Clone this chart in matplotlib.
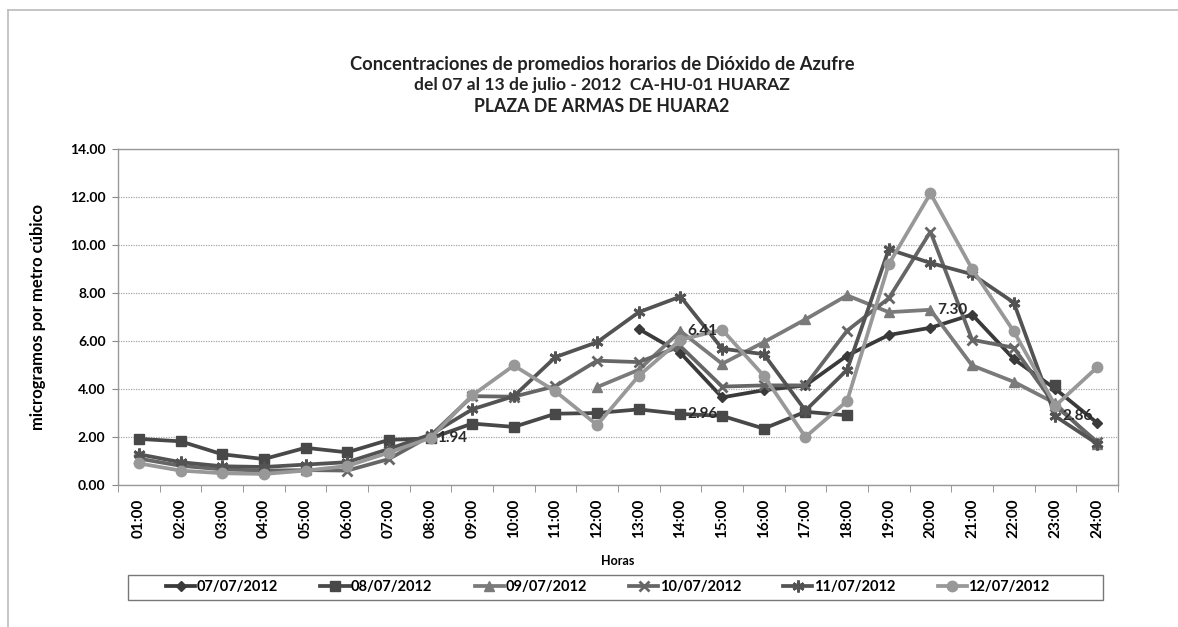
"""SO2 hourly averages, Huaraz, 07-13 July 2012"""
import numpy as np
import matplotlib.pyplot as plt
from matplotlib.lines import Line2D
from matplotlib.patches import Rectangle
from matplotlib.ticker import FixedLocator, FormatStrFormatter

plt.rcParams['font.family'] = ['Lato', 'DejaVu Sans']
plt.rcParams['font.weight'] = 'bold'

nan = np.nan

hours = ['01:00', '02:00', '03:00', '04:00', '05:00', '06:00', '07:00', '08:00',
         '09:00', '10:00', '11:00', '12:00', '13:00', '14:00', '15:00', '16:00',
         '17:00', '18:00', '19:00', '20:00', '21:00', '22:00', '23:00', '24:00']

s_0707 = [nan, nan, nan, nan, nan, nan, nan, nan, nan, nan, nan, nan,
          6.50, 5.50, 3.65, 3.95, 4.15, 5.39, 6.25, 6.55, 7.10, 5.25, 4.00, 2.59]
s_0807 = [1.92, 1.82, 1.28, 1.08, 1.55, 1.36, 1.88, 1.94, 2.56, 2.42, 2.97, 3.00,
          3.15, 2.96, 2.88, 2.35, 3.05, 2.90, nan, nan, nan, nan, 4.15, nan]
s_0907 = [nan, nan, nan, nan, nan, nan, nan, nan, nan, nan, nan, 4.08,
          4.80, 6.41, 5.05, 5.95, 6.90, 7.90, 7.20, 7.30, 4.98, 4.30, 3.40, 1.70]
s_1007 = [1.10, 0.80, 0.65, 0.60, 0.62, 0.60, 1.08, 2.05, 3.70, 3.68, 4.12, 5.18,
          5.12, 5.78, 4.10, 4.15, 4.15, 6.43, 7.78, 10.55, 6.05, 5.72, 3.30, 1.80]
s_1107 = [1.28, 0.95, 0.78, 0.75, 0.85, 0.95, 1.50, 2.10, 3.15, 3.70, 5.33, 5.95,
          7.20, 7.85, 5.68, 5.45, 3.10, 4.80, 9.82, 9.25, 8.78, 7.60, 2.86, 1.72]
s_1207 = [0.90, 0.60, 0.49, 0.46, 0.60, 0.79, 1.35, 1.96, 3.73, 4.98, 3.90, 2.50,
          4.55, 6.05, 6.47, 4.55, 2.00, 3.50, 9.20, 12.15, 9.00, 6.40, 3.30, 4.90]

series_names = ['07/07/2012', '08/07/2012', '09/07/2012', '10/07/2012', '11/07/2012', '12/07/2012']
series_data = [s_0707, s_0807, s_0907, s_1007, s_1107, s_1207]
series_colors = ['#3a3a3a', '#484848', '#7a7a7a', '#666666', '#535353', '#989898']
series_markers = ['D', 's', '^', 'x', (6, 2, 0), 'o']
marker_sizes = [5.5, 7.5, 7, 7.5, 8.5, 7.5]

# data labels shown on the chart: (series index, hour index)
labelled_points = [(1, 7), (1, 13), (2, 13), (2, 19), (4, 22)]

fig = plt.figure(figsize=(11.78, 6.27), dpi=100)
ax = fig.add_axes([0.1002, 0.2265, 0.8488, 0.5359])

x = np.arange(len(hours))
handles = []
for name, vals, col, mk, ms in zip(series_names, series_data, series_colors,
                                   series_markers, marker_sizes):
    thin = mk == 'x' or isinstance(mk, tuple)
    ln, = ax.plot(x, np.array(vals, dtype=float), color=col, lw=2.7, marker=mk,
                  markersize=ms, markeredgewidth=2 if thin else 1,
                  markerfacecolor=col, markeredgecolor=col, label=name)
    handles.append(ln)

for si, hi in labelled_points:
    v = series_data[si][hi]
    ax.annotate(f'{v:.2f}', (x[hi], v), xytext=(5, 0), textcoords='offset points',
                ha='left', va='center', fontsize=11, fontweight='bold', color='#2a2a2a')

ax.set_xlim(-0.5, len(hours) - 0.5)
ax.set_ylim(0, 14)
ax.set_yticks(np.arange(0, 15, 2))
ax.yaxis.set_major_formatter(FormatStrFormatter('%.2f'))
ax.set_xticks(x)
ax.set_xticklabels(hours, rotation=90, fontsize=11, fontweight='bold')
ax.xaxis.set_minor_locator(FixedLocator(np.arange(-0.5, len(hours), 1)))
ax.tick_params(axis='x', which='major', length=0, pad=10)
ax.tick_params(axis='x', which='minor', length=5, color='#888888')
ax.tick_params(axis='y', length=4, color='#888888', labelsize=10, pad=5)
for lab in ax.get_yticklabels():
    lab.set_fontweight('bold')

ax.grid(axis='y', color='#a8a8a8', lw=0.9, ls=(0, (1, 1)))
ax.set_axisbelow(True)
for sp in ax.spines.values():
    sp.set_color('#999999')
    sp.set_linewidth(1)

ax.set_xlabel('Horas', fontsize=9, fontweight='bold', labelpad=12)
ax.set_ylabel('microgramos por metro cúbico', fontsize=12, fontweight='bold', labelpad=17)

fig.text(0.511, 0.897, 'Concentraciones de promedios horarios de Dióxido de Azufre',
         ha='center', va='center', fontsize=13.2, fontweight='bold', color='#222222')
fig.text(0.511, 0.865, 'del 07 al 13 de julio - 2012  CA-HU-01 HUARAZ',
         ha='center', va='center', fontsize=12.6, fontweight='bold', color='#222222')
fig.text(0.511, 0.830, 'PLAZA DE ARMAS DE HUARA2',
         ha='center', va='center', fontsize=12.8, fontweight='bold', color='#222222')

# legend box drawn on its own, entries centred inside it
fig.add_artist(Rectangle((0.1087, 0.043), 0.8277, 0.0399, transform=fig.transFigure,
                         facecolor='none', edgecolor='#777777', lw=1))
leg = fig.legend(handles=handles, loc='center', bbox_to_anchor=(0.516, 0.063),
                 ncol=6, frameon=False, fontsize=10.5, handlelength=2.0,
                 handletextpad=0.1, columnspacing=2.9)
for t in leg.get_texts():
    t.set_fontweight('bold')

# outer chart border (scanned page frame)
fig.add_artist(Line2D([0.007, 1.0], [0.984, 0.984], color='#bbbbbb', lw=1.2))
fig.add_artist(Line2D([0.007, 0.007], [0.0, 0.984], color='#bbbbbb', lw=1.2))

fig.savefig('out.png', dpi=100)
